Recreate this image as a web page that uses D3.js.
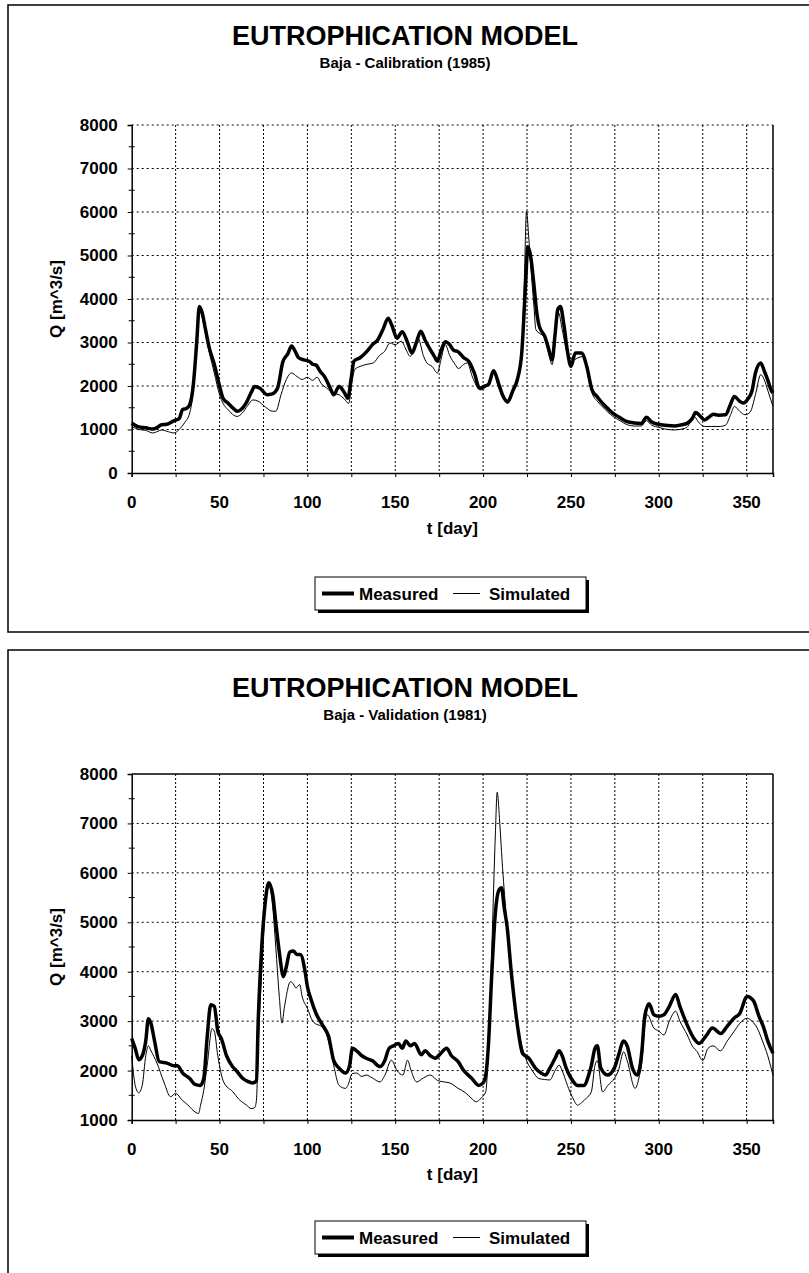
<!DOCTYPE html>
<html>
<head>
<meta charset="utf-8">
<script src="https://cdn.jsdelivr.net/npm/d3@7"></script>
<style>
  body { margin: 0; background: #fff; }
  text { font-family: "Liberation Sans", Arial, sans-serif; fill: #000; }
</style>
</head>
<body>
<script>
// Calibration 1985 - measured
var calMeasDays = [0,4,8,12,15,17,20,24,27,29,31,33,35,37,38.5,40,42,44,47,50,52,55,58,60,62,65,68,70,73,77,80,83,86,89,91,93,95,98,101,103,105,107,110,113,115,118,121,123,125,126.5,130,134,137,140,143,146,148,151,154,157,159.5,162,164.5,167,170,172,174,176,178.5,181,183,186,189,192,195,198,201,203,206,209,211,214,217,219.5,222,224,225.5,227,229,230.5,232,235,237,239.3,241,242.5,244,246,248,250,252.5,256,259,262,265,268,271,274,278,282,286,290,293,296,300,305,309,313,316,319,321,324,326,329,331,334,338,341,343,346,348,351,353,355,358,360,362,364,365];
var calMeas = [1150,1060,1040,1010,1060,1110,1120,1200,1250,1460,1480,1570,2000,3000,3830,3700,3300,2900,2500,2000,1720,1600,1480,1420,1450,1600,1850,1990,1950,1800,1820,1950,2550,2750,2920,2800,2650,2600,2570,2500,2480,2350,2200,1950,1800,1990,1850,1720,2200,2570,2650,2800,2950,3060,3300,3560,3400,3100,3250,3000,2760,3000,3260,3050,2830,2700,2570,2800,3020,2950,2830,2780,2650,2560,2300,1950,2000,2030,2350,2030,1800,1640,1900,2150,2760,4200,5200,5000,4300,3700,3370,3150,2900,2600,3200,3760,3830,3400,2800,2450,2760,2760,2450,1910,1750,1600,1480,1370,1270,1180,1150,1140,1280,1170,1120,1090,1080,1110,1140,1250,1390,1290,1220,1300,1350,1330,1340,1600,1760,1650,1610,1720,1880,2300,2530,2350,2140,1900,1840];

// Calibration 1985 - simulated
var calSimDays = [0,4,8,12,15,17,20,24,27,30,33,35,37,38.5,40,42,44,47,50,52,55,58,60,63,66,69,72,76,80,82,85,88,91,94,97,100,103,105.5,108,111,115,118,121,123.5,125,127,130,134,137.5,141,144,147,150,153.5,156,158.5,161,163,166,168,171,174,176,178.5,181,184,186,189,191,194,198.5,202,206,209,211,214,217,220,222,223.5,224.7,226,227,229,230,232.5,234.5,237,239.3,241,243,245,248,251.6,254,257.3,259,262,265,268,271,274,278,282,286,290,293,296,300,305,309,313,316,320,323,326,330,335,338,341,343,346,349,352,355,358,360,362,365];
var calSim = [1070,1000,980,920,960,990,960,920,1000,1150,1380,1900,3200,3780,3600,3200,2800,2300,1800,1600,1450,1330,1300,1380,1550,1680,1650,1520,1420,1420,1800,2150,2300,2220,2150,2200,2130,2200,2050,1950,1830,1800,1700,1600,2000,2380,2450,2500,2530,2700,2800,2990,2950,3030,2850,2680,2900,3100,2700,2530,2450,2300,2600,2950,2700,2500,2400,2500,2530,2200,1910,2000,2300,1950,1750,1600,1850,2200,2800,4500,6020,5400,4830,3800,3300,3200,3140,2800,2490,3100,3680,3300,2760,2600,2650,2680,2400,1840,1650,1520,1400,1300,1200,1110,1080,1080,1200,1100,1050,1000,990,1010,1050,1300,1150,1070,1070,1070,1100,1350,1530,1420,1340,1400,1800,2260,2150,1900,1530];

// Validation 1981 - measured
var valMeasDays = [0,2,4,6,8,9.5,11,13,15.7,20,24,26,29,33,36,39,41,43,45,47,49,51,54,57,60,63,66,69,71,72,74,76,78,80.3,82,84,86.4,88,90,92,94,96,98.7,100,102,105,109,112,115,118,121.7,124,125.6,128,131,133.4,137,141.3,144,146.5,149,151.8,154,156,158.6,161,164.8,167,170,172.7,176,179.2,182,185.8,189,193.6,197.5,200,201.5,203,205,207,209,210.5,212,213.7,216,217.5,220,222.4,226,230,233,235.5,238,241,243.3,245,247.3,250,253.8,257.7,260,261.6,263.7,265,267,270.8,274.7,277,280,282,285,287.8,290.4,292,294.5,297.2,300,302.9,306,309.6,312,316.2,320,322.9,326.7,330.5,335.3,339,342.8,346,350.3,352,354.1,357,359.8,362,365];
var valMeas = [2650,2450,2220,2300,2600,3050,2950,2600,2180,2150,2100,2100,1950,1840,1720,1700,1840,2700,3330,3300,2800,2650,2300,2100,1980,1850,1780,1750,1800,3000,4500,5400,5800,5550,5000,4400,3900,4100,4400,4420,4350,4350,4000,3700,3450,3150,2900,2700,2200,2050,1950,2100,2450,2400,2300,2250,2200,2080,2200,2450,2500,2550,2450,2600,2500,2550,2320,2400,2300,2250,2350,2450,2300,2180,2000,1840,1700,1750,1900,2500,4000,5200,5650,5700,5300,4900,4000,3500,2800,2350,2250,2040,1950,1910,2050,2250,2400,2300,2050,1850,1700,1700,1900,2100,2450,2500,2050,1910,2050,2300,2600,2500,2050,1910,2400,3100,3350,3130,3100,3130,3300,3540,3300,2920,2650,2550,2690,2860,2750,2900,3060,3150,3500,3480,3400,3100,2860,2600,2350];

// Validation 1981 - simulated
var valSimDays = [0,2,4,6,8,9.5,11,14.4,18.3,22.2,24.9,28.8,32,36.6,38,39.2,41,43.2,45.7,47,49,52.3,57.6,61,65.4,68,70,71,72,74,76,78,80,82,84,85.5,87,90.4,92,93.5,95.6,97,100,103,109.2,112,115,118,121.7,123,125.6,128,131,133.4,137,141.3,144,147.8,151,154.4,157,159,162.2,166,170,174,177.9,181,185.8,190,193,196.2,199,201.5,203,205,207,208,209.5,210.8,213,215.6,218,221.3,225,228,231.6,235,238,241,243.3,245,248,251,253.8,256,259,261.6,263.7,265,268,271,274.7,277,280,282,286.5,289,290.4,292,293.4,297.2,300,302.9,306,309.6,312,316.2,319,321.9,325,328,331,335,339,342.8,346,350.3,353,356,359,362,365];
var valSim = [2300,1700,1550,1700,2300,2500,2400,2150,1770,1470,1540,1400,1300,1150,1130,1300,1600,2180,2850,2800,2300,1770,1570,1420,1300,1230,1250,1400,2500,4000,5300,5750,5400,4500,3500,2960,3300,3800,3750,3670,3740,3500,3260,3000,2850,2600,2100,1700,1640,1700,1940,1950,1880,1910,1850,1770,1900,2210,2000,1910,2210,2000,1770,1850,1910,1800,1770,1750,1640,1550,1450,1370,1450,1570,2400,4500,6800,7630,7000,6250,5200,4200,3300,2620,2180,2000,1840,1820,1810,2000,2110,2000,1700,1450,1300,1350,1450,1570,2110,2200,1570,1700,1840,2000,2380,2200,1640,1900,2180,2900,3130,2860,2800,2720,3000,3200,3000,2720,2500,2380,2200,2450,2500,2400,2600,2790,2950,3060,3000,2860,2600,2300,1900];

var xTicks = [0, 50, 100, 150, 200, 250, 300, 350];
var xGrid = [25, 50, 75, 100, 125, 150, 175, 200, 225, 250, 275, 300, 325, 350];
var seriesNames = ["Measured", "Simulated"];

var width = 809, height = 1273;

var svg = d3.select("body").append("svg")
  .attr("width", width)
  .attr("height", height);

var panels = [
  {
    title: "EUTROPHICATION MODEL", sub: "Baja - Calibration (1985)",
    frameTop: 5, frameBottom: 632,
    titleY: 45, subY: 68,
    top: 125, bottom: 473,
    yMin: 0, yMax: 8000, boxTop: false,
    xLabY: 508, tDayY: 534, legY: 577,
    meas: [calMeasDays, calMeas], sim: [calSimDays, calSim]
  },
  {
    title: "EUTROPHICATION MODEL", sub: "Baja - Validation (1981)",
    frameTop: 650, frameBottom: 1300,
    titleY: 697, subY: 720,
    top: 774, bottom: 1120,
    yMin: 1000, yMax: 8000, boxTop: true,
    xLabY: 1155, tDayY: 1180, legY: 1221,
    meas: [valMeasDays, valMeas], sim: [valSimDays, valSim]
  }
];

var left = 131.7, right = 773;

panels.forEach(function(p) {
  var g = svg.append("g");

  // outer frame
  g.append("rect")
    .attr("x", 8).attr("y", p.frameTop)
    .attr("width", 820).attr("height", p.frameBottom - p.frameTop)
    .attr("fill", "none").attr("stroke", "#000").attr("stroke-width", 1.5);

  g.append("text")
    .attr("x", 405).attr("y", p.titleY)
    .attr("text-anchor", "middle")
    .style("font-size", "27px").style("font-weight", "bold")
    .text(p.title);
  g.append("text")
    .attr("x", 405).attr("y", p.subY)
    .attr("text-anchor", "middle")
    .style("font-size", "15px").style("font-weight", "bold")
    .text(p.sub);

  var x = d3.scaleLinear().domain([0, 365]).range([left, right]);
  var y = d3.scaleLinear().domain([p.yMin, p.yMax]).range([p.bottom, p.top]);
  var yTicks = d3.range(p.yMin, p.yMax + 1, 1000);
  var yMinor = d3.range(p.yMin + 500, p.yMax, 1000);

  // grid
  g.append("g").selectAll("line")
    .data(yTicks.slice(1, p.boxTop ? -1 : undefined))
    .enter().append("line")
    .attr("x1", left).attr("x2", right)
    .attr("y1", function(d) { return y(d); })
    .attr("y2", function(d) { return y(d); })
    .attr("stroke", "#000").attr("stroke-width", 1)
    .attr("stroke-dasharray", "2,3");
  g.append("g").selectAll("line")
    .data(xGrid)
    .enter().append("line")
    .attr("x1", function(d) { return x(d); })
    .attr("x2", function(d) { return x(d); })
    .attr("y1", p.top).attr("y2", p.bottom)
    .attr("stroke", "#000").attr("stroke-width", 1)
    .attr("stroke-dasharray", "2,2");

  // axes
  var yAxis = d3.axisLeft(y).tickValues(yTicks).tickSize(4).tickFormat(d3.format("d"));
  var ya = g.append("g").attr("transform", "translate(" + left + ",0)").call(yAxis);
  ya.select(".domain").attr("stroke-width", 1.5);
  ya.selectAll("text")
    .attr("x", -14)
    .style("font-size", "17px").style("font-weight", "bold")
    .style("font-family", "Liberation Sans, Arial, sans-serif");
  g.append("g").selectAll("line")
    .data(yMinor)
    .enter().append("line")
    .attr("x1", left - 3).attr("x2", left + 3)
    .attr("y1", function(d) { return y(d); })
    .attr("y2", function(d) { return y(d); })
    .attr("stroke", "#000");

  var xAxis = d3.axisBottom(x).tickValues(xGrid.concat([0])).tickSize(4).tickFormat("");
  var xa = g.append("g").attr("transform", "translate(0," + p.bottom + ")").call(xAxis);
  xa.select(".domain").attr("stroke-width", 1.5);
  g.append("g").selectAll("text")
    .data(xTicks)
    .enter().append("text")
    .attr("x", function(d) { return x(d); })
    .attr("y", p.xLabY)
    .attr("text-anchor", "middle")
    .style("font-size", "17px").style("font-weight", "bold")
    .text(function(d) { return d; });

  // right border (and top for the second chart)
  g.append("line")
    .attr("x1", right).attr("x2", right)
    .attr("y1", p.top).attr("y2", p.bottom)
    .attr("stroke", "#000").attr("stroke-width", 1.5);
  if (p.boxTop) {
    g.append("line")
      .attr("x1", left).attr("x2", right)
      .attr("y1", p.top).attr("y2", p.top)
      .attr("stroke", "#000").attr("stroke-width", 1.5);
  }

  // axis titles
  g.append("text")
    .attr("transform", "translate(62," + (p.top + p.bottom) / 2 + ") rotate(-90)")
    .attr("text-anchor", "middle")
    .style("font-size", "17px").style("font-weight", "bold")
    .text("Q [m^3/s]");
  g.append("text")
    .attr("x", (left + right) / 2).attr("y", p.tDayY)
    .attr("text-anchor", "middle")
    .style("font-size", "17px").style("font-weight", "bold")
    .text("t [day]");

  // series
  var line = d3.line()
    .x(function(d) { return x(d[0]); })
    .y(function(d) { return y(d[1]); })
    .curve(d3.curveMonotoneX);
  var simPts = d3.zip(p.sim[0], p.sim[1]);
  var measPts = d3.zip(p.meas[0], p.meas[1]);
  g.append("path").datum(simPts)
    .attr("d", line).attr("fill", "none")
    .attr("stroke", "#000").attr("stroke-width", 1);
  g.append("path").datum(measPts)
    .attr("d", line).attr("fill", "none")
    .attr("stroke", "#000").attr("stroke-width", 3.5)
    .attr("stroke-linejoin", "round");

  // legend
  var lx = 315, lw = 271, lh = 33;
  var lg = g.append("g").attr("transform", "translate(" + lx + "," + p.legY + ")");
  lg.append("rect").attr("x", 3).attr("y", 3).attr("width", lw).attr("height", lh).attr("fill", "#000");
  lg.append("rect").attr("width", lw).attr("height", lh)
    .attr("fill", "#fff").attr("stroke", "#000").attr("stroke-width", 1);
  var items = [
    { name: seriesNames[0], x1: 7, x2: 39, w: 4, tx: 44 },
    { name: seriesNames[1], x1: 138, x2: 165, w: 1, tx: 174 }
  ];
  items.forEach(function(it) {
    lg.append("line")
      .attr("x1", it.x1).attr("x2", it.x2)
      .attr("y1", lh / 2).attr("y2", lh / 2)
      .attr("stroke", "#000").attr("stroke-width", it.w);
    lg.append("text")
      .attr("x", it.tx).attr("y", lh / 2 + 6)
      .style("font-size", "17px").style("font-weight", "bold")
      .text(it.name);
  });
});
</script>
</body>
</html>
